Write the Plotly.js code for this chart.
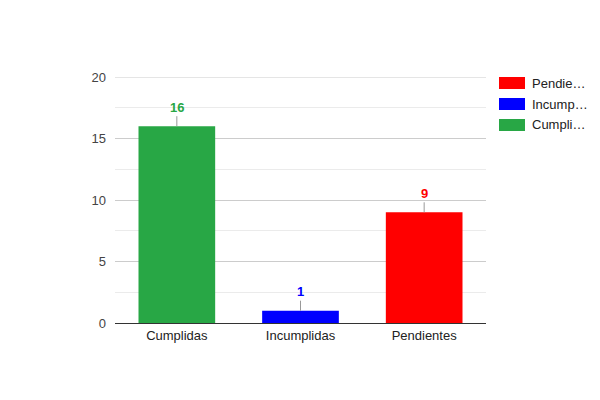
<!DOCTYPE html>
<html><head><meta charset="utf-8">
<script src="https://cdn.plot.ly/plotly-3.0.1.min.js"></script>
<style>html,body{margin:0;padding:0;background:#fff}#chart{width:600px;height:400px}</style>
</head><body><div id="chart"></div>
<script>
const categories = ["Cumplidas", "Incumplidas", "Pendientes"];
const values = [16, 1, 9];
const seriesColors = ["#28a745", "#0000ff", "#ff0000"];
const legendLabels = ["Cumpli…", "Incump…", "Pendie…"];
const yTicks = [0, 5, 10, 15, 20];

const font = "Arial, 'Liberation Sans', sans-serif";
const traces = categories.map((c, i) => ({
  type: "bar", x: [c], y: [values[i]], name: legendLabels[i],
  marker: {color: seriesColors[i]}, width: 0.62, hoverinfo: "x+y", showlegend: false
}));

const annotations = categories.map((c, i) => ({
  x: c, y: values[i], xref: "x", yref: "y", text: "<b>" + values[i] + "</b>",
  showarrow: true, arrowhead: 0, arrowwidth: 1, arrowcolor: "#999", ax: 0, ay: -19,
  font: {family: font, size: 13, color: seriesColors[i]}
}));

// top gridline (plotly omits the one at the range edge)
const shapes = [{type: "line", xref: "paper", yref: "y", x0: 0, x1: 1,
  y0: yTicks[yTicks.length - 1], y1: yTicks[yTicks.length - 1],
  line: {color: "#ccc", width: 1}, layer: "below"}];

// custom legend (reversed order) in paper coordinates
const legendOrder = [2, 1, 0];
legendOrder.forEach((idx, k) => {
  const top = 77 + k * 21;
  shapes.push({type: "rect", xref: "paper", yref: "paper",
    x0: (499 - 115) / 371, x1: (525 - 115) / 371,
    y0: (323 - (top + 12)) / 246, y1: (323 - top) / 246,
    fillcolor: seriesColors[idx], line: {width: 0}});
  annotations.push({xref: "paper", yref: "paper", x: (530 - 115) / 371, y: (323 - (top + 6)) / 246,
    xanchor: "left", yanchor: "middle", showarrow: false, text: legendLabels[idx],
    font: {family: font, size: 13, color: "#222"}});
});

const layout = {
  width: 600, height: 400,
  margin: {l: 115, r: 114, t: 77, b: 77},
  paper_bgcolor: "#fff", plot_bgcolor: "#fff",
  font: {family: font, size: 13, color: "#444"},
  barmode: "overlay",
  showlegend: false,
  xaxis: {type: "category", showgrid: false, showline: true, linecolor: "#333", linewidth: 1,
    ticks: "", tickfont: {family: font, size: 13, color: "#222"}, fixedrange: true},
  yaxis: {range: [0, 20], tickvals: yTicks, showgrid: true, gridcolor: "#ccc", gridwidth: 1,
    zeroline: true, zerolinecolor: "#333", zerolinewidth: 1, ticks: "", ticklabelstandoff: 8,
    tickfont: {family: font, size: 13, color: "#444"},
    minor: {tickvals: [2.5, 7.5, 12.5, 17.5], showgrid: true, gridcolor: "#ebebeb", gridwidth: 1, ticks: ""},
    fixedrange: true},
  annotations: annotations,
  shapes: shapes
};
Plotly.newPlot("chart", traces, layout, {displayModeBar: false, staticPlot: true});
</script></body></html>
